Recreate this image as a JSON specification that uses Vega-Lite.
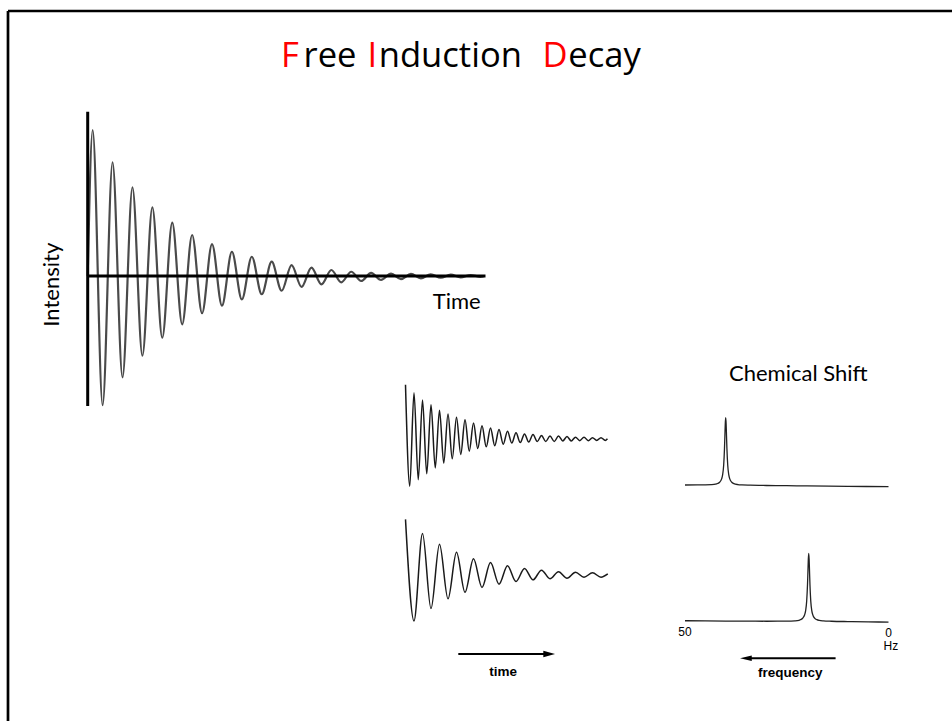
{
  "$schema": "https://vega.github.io/schema/vega-lite/v6.json",
  "width": 944,
  "height": 710,
  "autosize": {"type": "none"},
  "padding": {"left": 8, "top": 11, "right": 0, "bottom": 0},
  "background": "white",
  "config": {"view": {"stroke": null}},
  "resolve": {"scale": {"x": "independent", "y": "independent"}},
  "layer": [
    {
      "encoding": {
        "x": {"field": "fx", "type": "quantitative", "scale": {"domain": [0, 1], "nice": false, "zero": false}, "axis": null},
        "y": {"field": "fy", "type": "quantitative", "scale": {"domain": [0, 1], "nice": false, "zero": false}, "axis": null}
      },
      "layer": [
        {
          "data": {"values": [{"fx": 0, "fy": 0, "fy_top": 1}]},
          "mark": {"type": "rule", "color": "#000000", "strokeWidth": 2.7},
          "encoding": {"y2": {"field": "fy_top"}}
        },
        {
          "data": {"values": [{"fx": 0, "fx_end": 1, "fy": 1}]},
          "mark": {"type": "rule", "color": "#000000", "strokeWidth": 2.7},
          "encoding": {"x2": {"field": "fx_end"}}
        },
        {
          "data": {"values": [
            {"fx": 0.29873, "fy": 0.9207, "segment": "F"},
            {"fx": 0.38581, "fy": 0.9207, "segment": "I"},
            {"fx": 0.57945, "fy": 0.9207, "segment": "D"}
          ]},
          "mark": {"type": "text", "font": "Open Sans", "fontSize": 34.6, "align": "center", "baseline": "alphabetic", "color": "#ff0000"},
          "encoding": {"text": {"field": "segment"}}
        },
        {
          "data": {"values": [
            {"fx": 0.34110, "fy": 0.9207, "segment": "ree"}
          ]},
          "mark": {"type": "text", "font": "Open Sans", "fontSize": 34.6, "align": "center", "baseline": "alphabetic", "color": "#000000"},
          "encoding": {"text": {"field": "segment"}}
        },
        {
          "data": {"values": [
            {"fx": 0.39269, "fy": 0.9207, "segment": "nduction"},
            {"fx": 0.59354, "fy": 0.9207, "segment": "ecay"}
          ]},
          "mark": {"type": "text", "font": "Open Sans", "fontSize": 34.6, "align": "left", "baseline": "alphabetic", "color": "#000000"},
          "encoding": {"text": {"field": "segment"}}
        }
      ]
    },
    {
      "encoding": {
        "x": {"field": "t", "type": "quantitative", "scale": {"domain": [-4.007, 43.454], "nice": false, "zero": false}, "axis": null},
        "y": {"field": "intensity", "type": "quantitative", "scale": {"domain": [-304.79, 181.51], "nice": false, "zero": false}, "axis": null}
      },
      "layer": [
        {
          "data": {"values": [
            {"t": 0, "intensity": 0},
            {"t": 0.25, "intensity": 100},
            {"t": 0.75, "intensity": -88.4},
            {"t": 1.25, "intensity": 77.9},
            {"t": 1.75, "intensity": -69.4},
            {"t": 2.25, "intensity": 60.8},
            {"t": 2.75, "intensity": -54.6},
            {"t": 3.25, "intensity": 47.1},
            {"t": 3.75, "intensity": -42.3},
            {"t": 4.25, "intensity": 36.5},
            {"t": 4.75, "intensity": -33.1},
            {"t": 5.25, "intensity": 28.1},
            {"t": 5.75, "intensity": -25.5},
            {"t": 6.25, "intensity": 21.9},
            {"t": 6.75, "intensity": -20.3},
            {"t": 7.25, "intensity": 16.6},
            {"t": 7.75, "intensity": -16.0},
            {"t": 8.25, "intensity": 13.2},
            {"t": 8.75, "intensity": -12.5},
            {"t": 9.25, "intensity": 9.8},
            {"t": 9.75, "intensity": -10.1},
            {"t": 10.25, "intensity": 7.5},
            {"t": 10.75, "intensity": -7.5},
            {"t": 11.25, "intensity": 5.7},
            {"t": 11.75, "intensity": -5.7},
            {"t": 12.25, "intensity": 4.1},
            {"t": 12.75, "intensity": -4.3},
            {"t": 13.25, "intensity": 2.9},
            {"t": 13.75, "intensity": -3.4},
            {"t": 14.25, "intensity": 2.1},
            {"t": 14.75, "intensity": -2.7},
            {"t": 15.25, "intensity": 1.6},
            {"t": 15.75, "intensity": -2.1},
            {"t": 16.25, "intensity": 1.4},
            {"t": 16.75, "intensity": -1.6},
            {"t": 17.25, "intensity": 1.2},
            {"t": 17.75, "intensity": -1.2},
            {"t": 18.25, "intensity": 0.9},
            {"t": 18.75, "intensity": -0.9},
            {"t": 19.25, "intensity": 0.7},
            {"t": 19.75, "intensity": -0.6},
            {"t": 19.9, "intensity": -0.3}
          ]},
          "mark": {"type": "line", "interpolate": "monotone", "color": "#4a4a4a", "strokeWidth": 2.2}
        },
        {
          "data": {"values": [{"t": 0, "intensity": -89, "intensity_top": 112.5}]},
          "mark": {"type": "rule", "color": "#000000", "strokeWidth": 3},
          "encoding": {"y2": {"field": "intensity_top"}}
        },
        {
          "data": {"values": [{"t": 0, "t_end": 20, "intensity": 0}]},
          "mark": {"type": "rule", "color": "#000000", "strokeWidth": 3},
          "encoding": {"x2": {"field": "t_end"}}
        },
        {
          "data": {"values": [{"t": -1.428, "intensity": -5.96, "label": "Intensity"}]},
          "mark": {"type": "text", "angle": 270, "align": "center", "baseline": "alphabetic", "font": "Lato", "fontSize": 22, "color": "#000000"},
          "encoding": {"text": {"field": "label"}}
        },
        {
          "data": {"values": [{"t": 18.55, "intensity": -22.8, "label": "Time"}]},
          "mark": {"type": "text", "align": "center", "baseline": "alphabetic", "font": "Lato", "fontSize": 22, "color": "#000000"},
          "encoding": {"text": {"field": "label"}}
        }
      ]
    },
    {
      "data": {"values": [
        {"time_s": 0, "signal": 1.01},
        {"time_s": 0.0125, "signal": -0.87},
        {"time_s": 0.025, "signal": 0.86},
        {"time_s": 0.0375, "signal": -0.75},
        {"time_s": 0.05, "signal": 0.73},
        {"time_s": 0.0625, "signal": -0.64},
        {"time_s": 0.075, "signal": 0.64},
        {"time_s": 0.0875, "signal": -0.53},
        {"time_s": 0.1, "signal": 0.54},
        {"time_s": 0.1125, "signal": -0.44},
        {"time_s": 0.125, "signal": 0.47},
        {"time_s": 0.1375, "signal": -0.36},
        {"time_s": 0.15, "signal": 0.41},
        {"time_s": 0.1625, "signal": -0.28},
        {"time_s": 0.175, "signal": 0.36},
        {"time_s": 0.1875, "signal": -0.22},
        {"time_s": 0.2, "signal": 0.30},
        {"time_s": 0.2125, "signal": -0.17},
        {"time_s": 0.225, "signal": 0.25},
        {"time_s": 0.2375, "signal": -0.14},
        {"time_s": 0.25, "signal": 0.21},
        {"time_s": 0.2625, "signal": -0.12},
        {"time_s": 0.275, "signal": 0.18},
        {"time_s": 0.2875, "signal": -0.09},
        {"time_s": 0.3, "signal": 0.15},
        {"time_s": 0.3125, "signal": -0.07},
        {"time_s": 0.325, "signal": 0.12},
        {"time_s": 0.3375, "signal": -0.06},
        {"time_s": 0.35, "signal": 0.10},
        {"time_s": 0.3625, "signal": -0.05},
        {"time_s": 0.375, "signal": 0.09},
        {"time_s": 0.3875, "signal": -0.04},
        {"time_s": 0.4, "signal": 0.07},
        {"time_s": 0.4125, "signal": -0.04},
        {"time_s": 0.425, "signal": 0.06},
        {"time_s": 0.4375, "signal": -0.04},
        {"time_s": 0.45, "signal": 0.06},
        {"time_s": 0.4625, "signal": -0.03},
        {"time_s": 0.475, "signal": 0.05},
        {"time_s": 0.4875, "signal": -0.03},
        {"time_s": 0.5, "signal": 0.04},
        {"time_s": 0.5125, "signal": -0.025},
        {"time_s": 0.525, "signal": 0.04},
        {"time_s": 0.5375, "signal": -0.025},
        {"time_s": 0.55, "signal": 0.03},
        {"time_s": 0.5625, "signal": -0.02},
        {"time_s": 0.575, "signal": 0.03},
        {"time_s": 0.5875, "signal": -0.02},
        {"time_s": 0.594, "signal": 0.01}
      ]},
      "mark": {"type": "line", "interpolate": "monotone", "color": "#1a1a1a", "strokeWidth": 1.5},
      "encoding": {
        "x": {"field": "time_s", "type": "quantitative", "scale": {"domain": [-1.16912, 1.60735], "nice": false, "zero": false}, "axis": null},
        "y": {"field": "signal", "type": "quantitative", "scale": {"domain": [-5.2166, 7.9315], "nice": false, "zero": false}, "axis": null}
      }
    },
    {
      "encoding": {
        "x": {"field": "time_s", "type": "quantitative", "scale": {"domain": [-1.16912, 1.60735], "nice": false, "zero": false}, "axis": null},
        "y": {"field": "signal", "type": "quantitative", "scale": {"domain": [-2.7037, 10.4444], "nice": false, "zero": false}, "axis": null}
      },
      "layer": [
        {
          "data": {"values": [
            {"time_s": 0, "signal": 1.03},
            {"time_s": 0.025, "signal": -0.85},
            {"time_s": 0.05, "signal": 0.77},
            {"time_s": 0.075, "signal": -0.62},
            {"time_s": 0.1, "signal": 0.57},
            {"time_s": 0.125, "signal": -0.44},
            {"time_s": 0.15, "signal": 0.42},
            {"time_s": 0.175, "signal": -0.32},
            {"time_s": 0.2, "signal": 0.30},
            {"time_s": 0.225, "signal": -0.23},
            {"time_s": 0.25, "signal": 0.23},
            {"time_s": 0.275, "signal": -0.17},
            {"time_s": 0.3, "signal": 0.17},
            {"time_s": 0.325, "signal": -0.12},
            {"time_s": 0.35, "signal": 0.12},
            {"time_s": 0.375, "signal": -0.09},
            {"time_s": 0.4, "signal": 0.09},
            {"time_s": 0.425, "signal": -0.07},
            {"time_s": 0.45, "signal": 0.06},
            {"time_s": 0.475, "signal": -0.06},
            {"time_s": 0.5, "signal": 0.05},
            {"time_s": 0.525, "signal": -0.04},
            {"time_s": 0.55, "signal": 0.04},
            {"time_s": 0.575, "signal": -0.04},
            {"time_s": 0.595, "signal": 0.02}
          ]},
          "mark": {"type": "line", "interpolate": "monotone", "color": "#1a1a1a", "strokeWidth": 1.5}
        },
        {
          "data": {"values": [{"time_s": 0.1553, "time_end": 0.419, "signal": -1.463}]},
          "mark": {"type": "rule", "color": "#000000", "strokeWidth": 2},
          "encoding": {"x2": {"field": "time_end"}}
        },
        {
          "data": {"values": [{"time_s": 0.4226, "signal": -1.463}]},
          "mark": {"type": "point", "shape": "M-1,-0.54L1,0L-1,0.54Z", "size": 137, "filled": true, "color": "#000000", "opacity": 1}
        },
        {
          "data": {"values": [{"time_s": 0.287, "signal": -1.87, "label": "time"}]},
          "mark": {"type": "text", "align": "center", "baseline": "alphabetic", "font": "Liberation Sans", "fontWeight": "bold", "fontSize": 13.5, "color": "#000000"},
          "encoding": {"text": {"field": "label"}}
        }
      ]
    },
    {
      "encoding": {
        "x": {"field": "hz", "type": "quantitative", "scale": {"domain": [-15.602, 216.339], "reverse": true, "nice": false, "zero": false}, "axis": null},
        "y": {"field": "amplitude", "type": "quantitative", "scale": {"domain": [-3.4603, 6.9809], "nice": false, "zero": false}, "axis": null}
      },
      "layer": [
        {
          "data": {"values": [
            {"hz": 50, "amplitude": 0.010},
            {"hz": 47, "amplitude": 0.011},
            {"hz": 45, "amplitude": 0.012},
            {"hz": 43.5, "amplitude": 0.015},
            {"hz": 42.5, "amplitude": 0.022},
            {"hz": 42, "amplitude": 0.032},
            {"hz": 41.5, "amplitude": 0.051},
            {"hz": 41, "amplitude": 0.10},
            {"hz": 40.75, "amplitude": 0.163},
            {"hz": 40.5, "amplitude": 0.30},
            {"hz": 40.3, "amplitude": 0.545},
            {"hz": 40.2, "amplitude": 0.73},
            {"hz": 40.1, "amplitude": 0.915},
            {"hz": 40, "amplitude": 1.0},
            {"hz": 39.9, "amplitude": 0.915},
            {"hz": 39.8, "amplitude": 0.73},
            {"hz": 39.7, "amplitude": 0.545},
            {"hz": 39.5, "amplitude": 0.30},
            {"hz": 39.25, "amplitude": 0.163},
            {"hz": 39, "amplitude": 0.10},
            {"hz": 38.5, "amplitude": 0.05},
            {"hz": 38, "amplitude": 0.031},
            {"hz": 37, "amplitude": 0.016},
            {"hz": 36, "amplitude": 0.011},
            {"hz": 34, "amplitude": 0.007},
            {"hz": 30, "amplitude": 0.003},
            {"hz": 25, "amplitude": 0.0},
            {"hz": 20, "amplitude": -0.004},
            {"hz": 10, "amplitude": -0.009},
            {"hz": 0, "amplitude": -0.015}
          ]},
          "mark": {"type": "line", "interpolate": "monotone", "color": "#222222", "strokeWidth": 1.3}
        },
        {
          "data": {"values": [{"hz": 22.16, "amplitude": 1.54, "label": "Chemical Shift"}]},
          "mark": {"type": "text", "align": "center", "baseline": "alphabetic", "font": "Lato", "fontSize": 22, "color": "#000000"},
          "encoding": {"text": {"field": "label"}}
        }
      ]
    },
    {
      "encoding": {
        "x": {"field": "hz", "type": "quantitative", "scale": {"domain": [-15.602, 216.339], "reverse": true, "nice": false, "zero": false}, "axis": null},
        "y": {"field": "amplitude", "type": "quantitative", "scale": {"domain": [-1.4662, 8.975], "nice": false, "zero": false}, "axis": null}
      },
      "layer": [
        {
          "data": {"values": [
            {"hz": 50, "amplitude": 0.008},
            {"hz": 45, "amplitude": 0.006},
            {"hz": 40, "amplitude": 0.004},
            {"hz": 35, "amplitude": 0.002},
            {"hz": 30, "amplitude": 0.001},
            {"hz": 25, "amplitude": 0.002},
            {"hz": 23, "amplitude": 0.006},
            {"hz": 22, "amplitude": 0.013},
            {"hz": 21.6, "amplitude": 0.025},
            {"hz": 21.1, "amplitude": 0.045},
            {"hz": 20.6, "amplitude": 0.097},
            {"hz": 20.35, "amplitude": 0.16},
            {"hz": 20.1, "amplitude": 0.30},
            {"hz": 19.9, "amplitude": 0.54},
            {"hz": 19.8, "amplitude": 0.725},
            {"hz": 19.7, "amplitude": 0.913},
            {"hz": 19.6, "amplitude": 1.0},
            {"hz": 19.5, "amplitude": 0.913},
            {"hz": 19.4, "amplitude": 0.725},
            {"hz": 19.3, "amplitude": 0.54},
            {"hz": 19.1, "amplitude": 0.297},
            {"hz": 18.85, "amplitude": 0.158},
            {"hz": 18.6, "amplitude": 0.095},
            {"hz": 18.1, "amplitude": 0.043},
            {"hz": 17.6, "amplitude": 0.024},
            {"hz": 17, "amplitude": 0.013},
            {"hz": 16, "amplitude": 0.006},
            {"hz": 14, "amplitude": 0.001},
            {"hz": 10, "amplitude": -0.004},
            {"hz": 5, "amplitude": -0.008},
            {"hz": 0, "amplitude": -0.012}
          ]},
          "mark": {"type": "line", "interpolate": "monotone", "color": "#222222", "strokeWidth": 1.3}
        },
        {
          "data": {"values": [
            {"hz": 50, "amplitude": -0.216, "label": "50"},
            {"hz": 0, "amplitude": -0.235, "label": "0"},
            {"hz": -0.6, "amplitude": -0.422, "label": "Hz"}
          ]},
          "mark": {"type": "text", "align": "center", "baseline": "alphabetic", "font": "Liberation Sans", "fontSize": 12, "color": "#000000"},
          "encoding": {"text": {"field": "label"}}
        },
        {
          "data": {"values": [{"hz": 13.0, "hz_end": 34.52, "amplitude": -0.544}]},
          "mark": {"type": "rule", "color": "#000000", "strokeWidth": 2},
          "encoding": {"x2": {"field": "hz_end"}}
        },
        {
          "data": {"values": [{"hz": 35.04, "amplitude": -0.544}]},
          "mark": {"type": "point", "shape": "M1,-0.47L-1,0L1,0.47Z", "size": 137, "filled": true, "color": "#000000", "opacity": 1}
        },
        {
          "data": {"values": [{"hz": 24.13, "amplitude": -0.824, "label": "frequency"}]},
          "mark": {"type": "text", "align": "center", "baseline": "alphabetic", "font": "Liberation Sans", "fontWeight": "bold", "fontSize": 13.5, "color": "#000000"},
          "encoding": {"text": {"field": "label"}}
        }
      ]
    }
  ]
}
